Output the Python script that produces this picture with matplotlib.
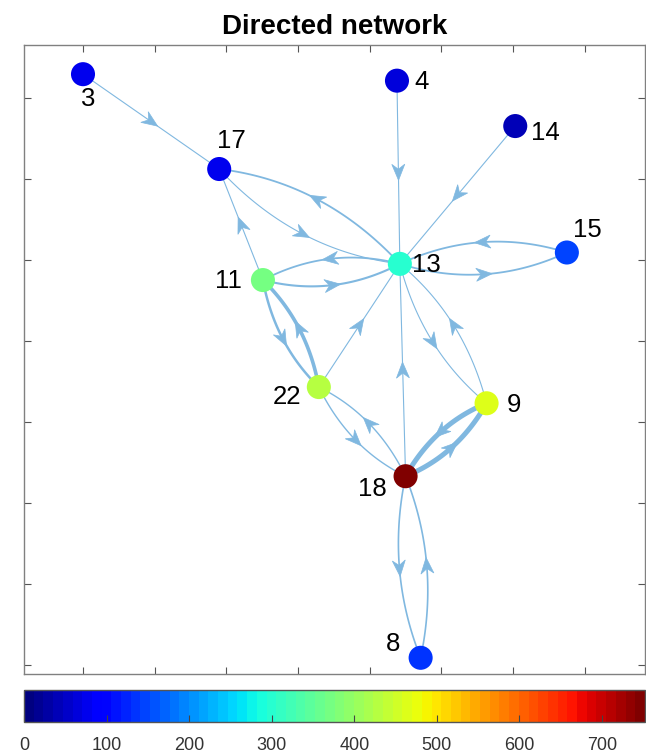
import numpy as np
import matplotlib.pyplot as plt
from matplotlib.patches import Polygon
from matplotlib.cm import ScalarMappable
from matplotlib.colors import Normalize

plt.rcParams['font.family'] = ['Liberation Sans', 'DejaVu Sans']

# node data
node_ids = [3, 4, 14, 17, 15, 13, 11, 22, 9, 18, 8]
node_x = [1.00, 5.38, 7.03, 2.90, 7.75, 5.42, 3.51, 4.29, 6.63, 5.50, 5.71]
node_y = [8.29, 8.21, 7.65, 7.12, 6.09, 5.95, 5.75, 4.43, 4.23, 3.33, 1.09]
node_val = [75, 64, 40, 75, 145, 295, 365, 424, 461, 752, 131]
# label offsets (points) relative to each node
label_dx = [4, 18, 22, 9, 15, 19, -25, -23, 20, -24, -20]
label_dy = [-18, -1, -5, 20, 16, -1, -1, -7, -1, -9, 10]

# directed edges: source, target, line width
edge_src = [3, 4, 14, 13, 17, 11, 13, 11, 15, 13, 11, 22, 22, 22, 18, 18, 13, 9, 9, 18, 18, 8]
edge_dst = [17, 13, 13, 17, 13, 17, 11, 13, 13, 15, 22, 11, 13, 18, 22, 13, 9, 13, 18, 9, 8, 18]
edge_lw = [0.8, 0.8, 0.8, 1.3, 0.8, 0.8, 1.3, 1.5, 1.3, 1.3, 1.8, 2.6, 0.8, 1.0, 1.0, 0.8,
           0.8, 0.8, 3.6, 3.6, 1.2, 1.2]

edge_color = '#80B8E0'
cmap = plt.get_cmap('jet', 64)
norm = Normalize(vmin=0, vmax=max(node_val))

fig = plt.figure(figsize=(6.46, 7.53), dpi=100)
ax = fig.add_axes([24 / 646, 1 - 674 / 753, 621 / 646, 629 / 753])
ax.set_xlim(0.177, 8.84)
ax.set_ylim(0.89, 8.65)
ax.set_xticks(np.arange(1, 9))
ax.set_yticks(np.arange(1, 9))
ax.set_xticklabels([])
ax.set_yticklabels([])
ax.tick_params(direction='in', length=5, width=0.8, color='#555555',
               top=True, right=True)
for s in ax.spines.values():
    s.set_color('#808080')
    s.set_linewidth(1.0)
ax.set_title('Directed network', fontsize=20, fontweight='bold', pad=8)

pos = {n: np.array([x, y]) for n, x, y in zip(node_ids, node_x, node_y)}
to_px = ax.transData
pairs = set(zip(edge_src, edge_dst))

arrow_len, arrow_w, notch = 16.0, 13.0, 5.0

for s, t, lw in zip(edge_src, edge_dst, edge_lw):
    p0, p2 = pos[s], pos[t]
    d = p2 - p0
    length = np.hypot(*d)
    nrm = np.array([d[1], -d[0]]) / length
    # reciprocal edges bow to the right of their direction
    bend = 0.17 * length if (t, s) in pairs else 0.0
    p1 = (p0 + p2) / 2 + nrm * bend
    tt = np.linspace(0, 1, 60)[:, None]
    curve = (1 - tt) ** 2 * p0 + 2 * (1 - tt) * tt * p1 + tt ** 2 * p2
    ax.plot(curve[:, 0], curve[:, 1], color=edge_color, lw=lw,
            solid_capstyle='round', zorder=1)

    # arrowhead at the middle of the edge, sized in pixels
    q0, q2 = to_px.transform(p0), to_px.transform(p2)
    mid = to_px.transform(0.25 * p0 + 0.5 * p1 + 0.25 * p2)
    u = (q2 - q0) / np.hypot(*(q2 - q0))
    n_px = np.array([u[1], -u[0]])
    tip = mid + u * arrow_len / 2
    back = mid - u * arrow_len / 2
    head = np.array([tip,
                     back + n_px * arrow_w / 2,
                     back + u * notch,
                     back - n_px * arrow_w / 2])
    ax.add_patch(Polygon(to_px.inverted().transform(head), closed=True,
                         facecolor=edge_color, edgecolor=edge_color, lw=0.5, zorder=2))

ax.scatter(node_x, node_y, s=300, c=node_val, cmap=cmap, norm=norm,
           edgecolors='none', zorder=3)

for n, x, y, dx, dy in zip(node_ids, node_x, node_y, label_dx, label_dy):
    ax.annotate(str(n), (x, y), xytext=(dx, dy), textcoords='offset points',
                ha='center', va='center', fontsize=18.5, color='black', zorder=4)

cax = fig.add_axes([24 / 646, 1 - 722 / 753, 621 / 646, 32 / 753])
cb = fig.colorbar(ScalarMappable(norm=norm, cmap=cmap), cax=cax, orientation='horizontal')
cb.set_ticks(np.arange(0, 701, 100))
cb.ax.tick_params(direction='in', length=5, width=0.8, color='#444444',
                  labelsize=13, pad=11, labelcolor='#333333')
cb.outline.set_edgecolor('#555555')
cb.outline.set_linewidth(1.0)

fig.savefig('out.png', dpi=100)
